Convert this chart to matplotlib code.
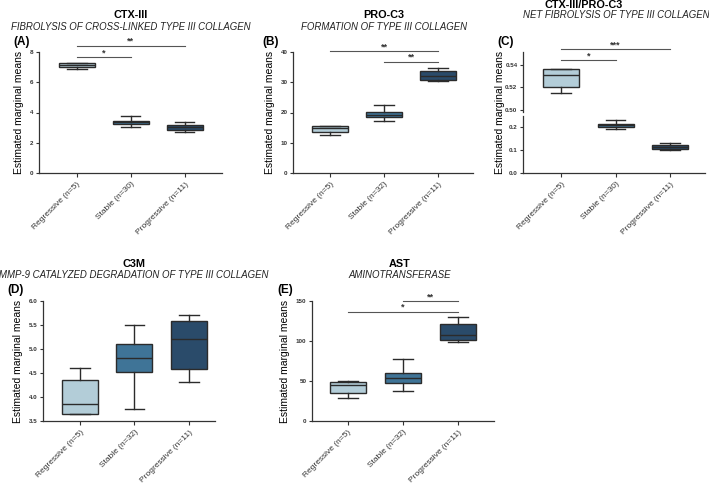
import matplotlib
matplotlib.use("Agg")
import matplotlib.pyplot as plt

plt.rcParams['font.family'] = ['Liberation Sans', 'DejaVu Sans']

# ---- data (box stats: whislo, q1, median, q3, whishi) ----
groups_A = ["Regressive (n=5)", "Stable (n=30)", "Progressive (n=11)"]
groups_B = ["Regressive (n=5)", "Stable (n=32)", "Progressive (n=11)"]
groups_C = ["Regressive (n=5)", "Stable (n=30)", "Progressive (n=11)"]
groups_D = ["Regressive (n=5)", "Stable (n=32)", "Progressive (n=11)"]
groups_E = ["Regressive (n=5)", "Stable (n=32)", "Progressive (n=11)"]

ctx3_reg = [6.88, 6.99, 7.14, 7.30, 7.30]
ctx3_sta = [3.04, 3.24, 3.35, 3.46, 3.75]
ctx3_pro = [2.73, 2.82, 3.02, 3.20, 3.35]

proc3_reg = [12.7, 13.4, 14.9, 15.5, 15.6]
proc3_sta = [17.1, 18.5, 19.1, 20.1, 22.4]
proc3_pro = [30.5, 30.9, 32.2, 33.8, 34.7]

ratio_reg = [0.5152, 0.5206, 0.5313, 0.5362, 0.5362]
ratio_sta = [0.193, 0.203, 0.210, 0.217, 0.232]
ratio_pro = [0.099, 0.104, 0.115, 0.123, 0.130]

c3m_reg = [3.64, 3.65, 3.86, 4.36, 4.61]
c3m_sta = [3.75, 4.53, 4.82, 5.11, 5.51]
c3m_pro = [4.32, 4.59, 5.21, 5.59, 5.70]

ast_reg = [28.8, 34.6, 45.3, 49.1, 50.3]
ast_sta = [37.9, 47.4, 53.6, 59.4, 77.0]
ast_pro = [99.3, 101.4, 107.1, 120.7, 129.8]

# significance bars: (from, to, y, label)
sig_A = [(0, 1, 7.65, "*"), (0, 2, 8.42, "**")]
sig_B = [(0, 2, 40.2, "**"), (1, 2, 36.8, "**")]
sig_C = [(0, 1, 0.5436, "*"), (0, 2, 0.5534, "***")]
sig_E = [(0, 2, 136.8, "*"), (1, 2, 149.6, "**")]

colors = ["#b3cdd8", "#3f7497", "#2a4b6a"]
edge = "#2b2b2b"

W, H = 709, 484
fig = plt.figure(figsize=(W / 100, H / 100), dpi=100)


def px_axes(left, top, right, bottom):
    return fig.add_axes([left / W, 1 - bottom / H, (right - left) / W, (bottom - top) / H])


def draw_boxes(ax, stats_list):
    stats = []
    for s in stats_list:
        stats.append(dict(whislo=s[0], q1=s[1], med=s[2], q3=s[3], whishi=s[4], fliers=[]))
    bp = ax.bxp(stats, positions=[0, 1, 2], widths=0.66, patch_artist=True,
                showfliers=False, capwidths=0.36,
                boxprops=dict(linewidth=1.0, edgecolor=edge),
                medianprops=dict(color=edge, linewidth=1.0),
                whiskerprops=dict(color=edge, linewidth=1.0),
                capprops=dict(color=edge, linewidth=1.0))
    for patch, c in zip(bp['boxes'], colors):
        patch.set_facecolor(c)


def style(ax, labels, xlim, show_x=True):
    ax.set_xlim(*xlim)
    for sp in ['top', 'right']:
        ax.spines[sp].set_visible(False)
    for sp in ['left', 'bottom']:
        ax.spines[sp].set_linewidth(0.9)
        ax.spines[sp].set_color('#333333')
    ax.tick_params(axis='y', labelsize=4.5, length=2.5, width=0.8, pad=1.5, colors='#333333')
    ax.tick_params(axis='x', labelsize=6.0, length=3, width=0.8, pad=2.5, colors='#333333')
    for t in ax.get_yticklabels():
        t.set_fontweight('bold')
    if show_x:
        ax.set_xticks([0, 1, 2])
        ax.set_xticklabels(labels, rotation=45, ha='right', rotation_mode='anchor', color='#333333')


def sig(ax, bars):
    for a, b, y, lab in bars:
        ax.plot([a, b], [y, y], color='#555555', lw=0.8, clip_on=False)
        ax.text((a + b) / 2, y, lab, ha='center', va='bottom', fontsize=6.5,
                fontweight='bold', color='#333333', clip_on=False)


def titles(x, ty, sy, title, sub):
    fig.text(x / W, 1 - ty / H, title, ha='center', va='center', fontsize=7.8, fontweight='bold')
    fig.text(x / W, 1 - sy / H, sub, ha='center', va='center', fontsize=6.9, style='italic',
             color='#222222')


def plabel(x, y, s):
    fig.text(x / W, 1 - y / H, s, ha='left', va='center', fontsize=8.5, fontweight='bold')


ylab = "Estimated marginal means"

# ---- (A) ----
axA = px_axes(39, 52, 222, 173)
draw_boxes(axA, [ctx3_reg, ctx3_sta, ctx3_pro])
axA.set_ylim(0, 8)
axA.set_yticks([0, 2, 4, 6, 8])
style(axA, groups_A, (-0.70, 2.69))
axA.set_ylabel(ylab, fontsize=7.5, labelpad=4)
sig(axA, sig_A)
titles(131, 15, 27, "CTX-III", "FIBROLYSIS OF CROSS-LINKED TYPE III COLLAGEN")
plabel(13, 42, "(A)")

# ---- (B) ----
axB = px_axes(293, 52, 473, 173)
draw_boxes(axB, [proc3_reg, proc3_sta, proc3_pro])
axB.set_ylim(0, 40)
axB.set_yticks([0, 10, 20, 30, 40])
style(axB, groups_B, (-0.69, 2.65))
axB.set_ylabel(ylab, fontsize=7.5, labelpad=4)
sig(axB, sig_B)
titles(384, 15, 27, "PRO-C3", "FORMATION OF TYPE III COLLAGEN")
plabel(262, 42, "(B)")

# ---- (C) broken axis ----
axCu = px_axes(523, 52, 705, 112)
axCl = px_axes(523, 116, 705, 173)
for ax in (axCu, axCl):
    draw_boxes(ax, [ratio_reg, ratio_sta, ratio_pro])
axCu.set_ylim(0.4985, 0.551)
axCu.set_yticks([0.50, 0.52, 0.54])
axCu.set_yticklabels(["0.50", "0.52", "0.54"])
axCl.set_ylim(0, 0.25)
axCl.set_yticks([0.0, 0.1, 0.2])
axCl.set_yticklabels(["0.0", "0.1", "0.2"])
style(axCu, groups_C, (-0.70, 2.64), show_x=False)
style(axCl, groups_C, (-0.70, 2.64))
axCu.spines['bottom'].set_visible(False)
axCu.set_xticks([])
sig(axCu, sig_C)
fig.text(500 / W, 1 - 112 / H, ylab, rotation=90, ha='center', va='center', fontsize=7.5)
fig.text(584 / W, 1 - 5 / H, "CTX-III/PRO-C3", ha='center', va='center', fontsize=7.8, fontweight='bold')
fig.text(616 / W, 1 - 15 / H, "NET FIBROLYSIS OF TYPE III COLLAGEN", ha='center', va='center',
         fontsize=6.9, style='italic', color='#222222')
plabel(497, 42, "(C)")

# ---- (D) ----
axD = px_axes(43, 301, 215, 421)
draw_boxes(axD, [c3m_reg, c3m_sta, c3m_pro])
axD.set_ylim(3.5, 6.0)
axD.set_yticks([3.5, 4.0, 4.5, 5.0, 5.5, 6.0])
style(axD, groups_D, (-0.68, 2.48))
axD.set_ylabel(ylab, fontsize=7.5, labelpad=4)
titles(134, 264, 275, "C3M", "MMP-9 CATALYZED DEGRADATION OF TYPE III COLLAGEN")
plabel(7, 290, "(D)")

# ---- (E) ----
axE = px_axes(312, 301, 494, 421)
draw_boxes(axE, [ast_reg, ast_sta, ast_pro])
axE.set_ylim(0, 150)
axE.set_yticks([0, 50, 100, 150])
style(axE, groups_E, (-0.65, 2.65))
axE.set_ylabel(ylab, fontsize=7.5, labelpad=4)
sig(axE, sig_E)
titles(400, 264, 275, "AST", "AMINOTRANSFERASE")
plabel(277, 290, "(E)")

fig.savefig("out.png", dpi=100)
